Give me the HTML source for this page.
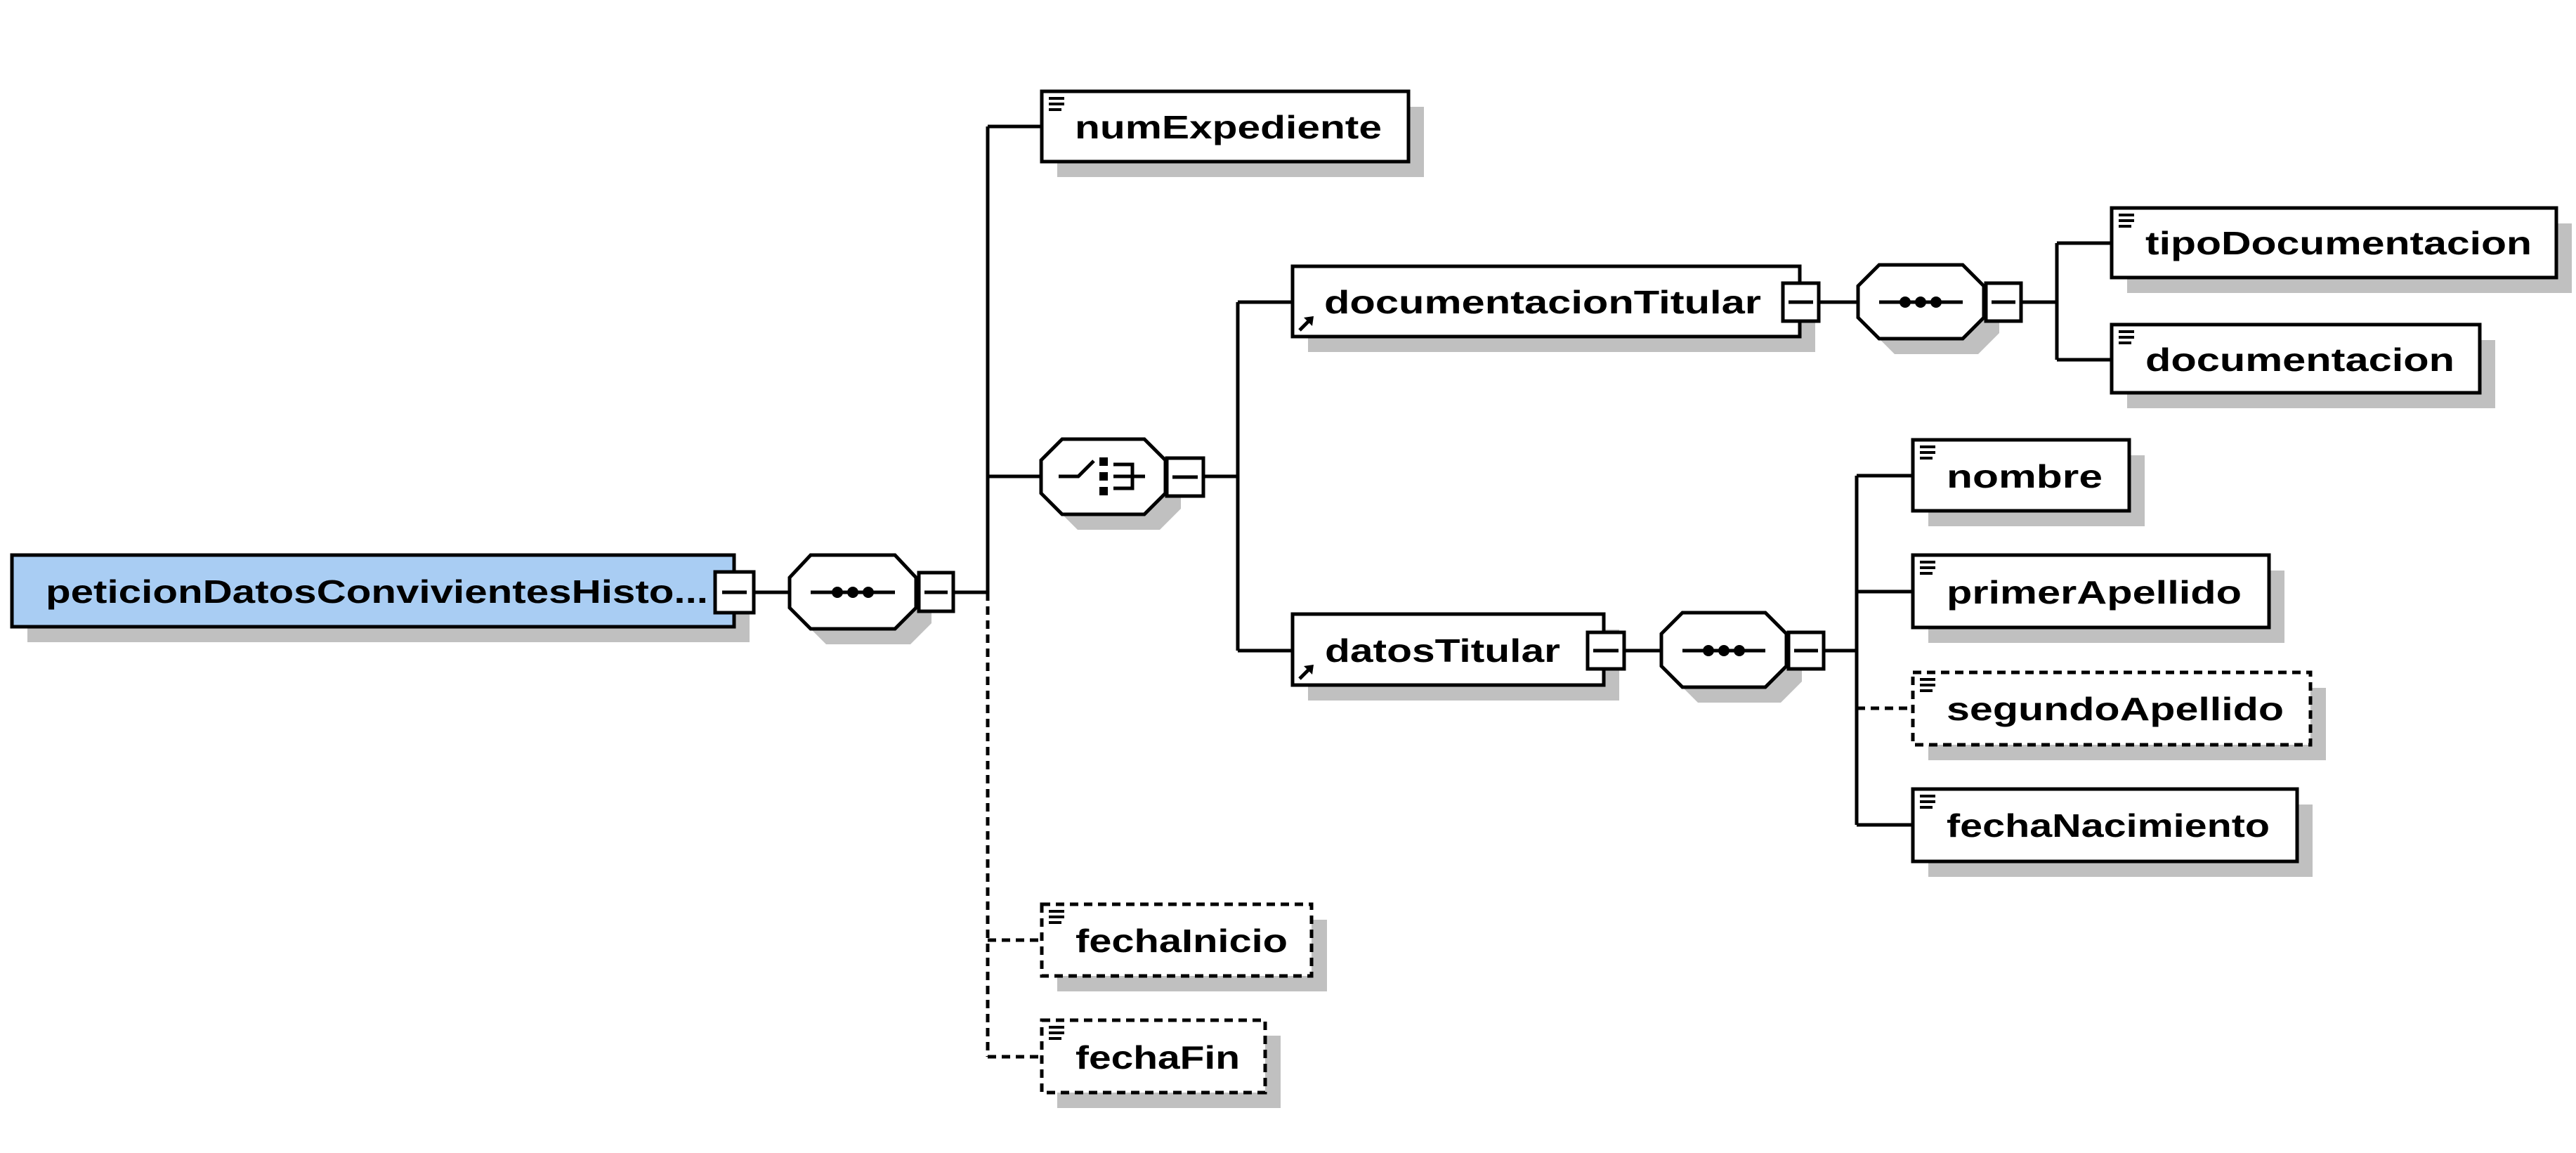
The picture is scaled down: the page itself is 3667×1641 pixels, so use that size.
<!DOCTYPE html>
<html><head><meta charset="utf-8"><style>
html,body{margin:0;padding:0;background:#fff;}
svg{display:block;}
text{font-family:"Liberation Sans",Arial,sans-serif;font-weight:bold;font-size:46px;fill:#000;}
</style></head><body>
<svg width="3667" height="1641" viewBox="0 0 3667 1641" xmlns="http://www.w3.org/2000/svg">
<g fill="#c0c0c0" stroke="none">
<rect x="39" y="812" width="1028" height="102"/>
<polygon points="1176,812 1296,812 1326,844 1326,887 1296,917 1176,917 1146,887 1146,844"/>
<rect x="1505" y="152" width="522" height="100"/>
<polygon points="1534,647 1651,647 1681,677 1681,724 1651,754 1534,754 1504,724 1504,677"/>
<rect x="1862" y="401" width="722" height="100"/>
<polygon points="2697,399 2816,399 2846,429 2846,474 2816,504 2697,504 2667,474 2667,429"/>
<rect x="3028" y="318" width="633" height="99"/>
<rect x="3028" y="484" width="524" height="97"/>
<rect x="1862" y="896" width="443" height="101"/>
<polygon points="2417,894 2535,894 2565,924 2565,970 2535,1000 2417,1000 2387,970 2387,924"/>
<rect x="2745" y="648" width="308" height="101"/>
<rect x="2745" y="812" width="507" height="103"/>
<rect x="2745" y="979" width="566" height="103"/>
<rect x="2745" y="1145" width="547" height="103"/>
<rect x="1505" y="1309" width="384" height="102"/>
<rect x="1505" y="1474" width="318" height="103"/>
</g>
<g stroke="#000" stroke-width="5" fill="none">
<line x1="1073" y1="843" x2="1124" y2="843"/>
<line x1="1357" y1="843" x2="1406" y2="843"/>
<line x1="1406" y1="180" x2="1406" y2="843"/>
<line x1="1406" y1="843" x2="1406" y2="1504" stroke-dasharray="12 8"/>
<line x1="1406" y1="180" x2="1483" y2="180"/>
<line x1="1406" y1="678" x2="1482" y2="678"/>
<line x1="1406" y1="1338" x2="1483" y2="1338" stroke-dasharray="12 8"/>
<line x1="1406" y1="1504" x2="1483" y2="1504" stroke-dasharray="12 8"/>
<line x1="1713" y1="678" x2="1762" y2="678"/>
<line x1="1762" y1="430" x2="1762" y2="926"/>
<line x1="1762" y1="430" x2="1840" y2="430"/>
<line x1="1762" y1="926" x2="1840" y2="926"/>
<line x1="2589" y1="430" x2="2645" y2="430"/>
<line x1="2877" y1="430" x2="2928" y2="430"/>
<line x1="2928" y1="346" x2="2928" y2="512"/>
<line x1="2928" y1="346" x2="3006" y2="346"/>
<line x1="2928" y1="512" x2="3006" y2="512"/>
<line x1="2312" y1="926" x2="2365" y2="926"/>
<line x1="2596" y1="926" x2="2643" y2="926"/>
<line x1="2643" y1="677" x2="2643" y2="1174"/>
<line x1="2643" y1="677" x2="2723" y2="677"/>
<line x1="2643" y1="842" x2="2723" y2="842"/>
<line x1="2643" y1="1008" x2="2723" y2="1008" stroke-dasharray="12 8"/>
<line x1="2643" y1="1174" x2="2723" y2="1174"/>
</g>
<g stroke="#000" stroke-width="5">
<rect x="17" y="790" width="1028" height="102" fill="#a9cdf3"/>
<rect x="1483" y="130" width="522" height="100" fill="#fff"/>
<rect x="1840" y="379" width="722" height="100" fill="#fff"/>
<rect x="3006" y="296" width="633" height="99" fill="#fff"/>
<rect x="3006" y="462" width="524" height="97" fill="#fff"/>
<rect x="1840" y="874" width="443" height="101" fill="#fff"/>
<rect x="2723" y="626" width="308" height="101" fill="#fff"/>
<rect x="2723" y="790" width="507" height="103" fill="#fff"/>
<rect x="2723" y="957" width="566" height="103" fill="#fff" stroke-dasharray="12 8"/>
<rect x="2723" y="1123" width="547" height="103" fill="#fff"/>
<rect x="1483" y="1287" width="384" height="102" fill="#fff" stroke-dasharray="12 8"/>
<rect x="1483" y="1452" width="318" height="103" fill="#fff" stroke-dasharray="12 8"/>
<polygon fill="#fff" points="1154,790 1274,790 1304,822 1304,865 1274,895 1154,895 1124,865 1124,822"/>
<polygon fill="#fff" points="1512,625 1629,625 1659,655 1659,702 1629,732 1512,732 1482,702 1482,655"/>
<polygon fill="#fff" points="2675,377 2794,377 2824,407 2824,452 2794,482 2675,482 2645,452 2645,407"/>
<polygon fill="#fff" points="2395,872 2513,872 2543,902 2543,948 2513,978 2395,978 2365,948 2365,902"/>
<rect x="1018" y="814" width="55" height="58" fill="#fff"/>
<rect x="1308" y="815" width="49" height="55" fill="#fff"/>
<rect x="1661" y="652" width="52" height="54" fill="#fff"/>
<rect x="2538" y="403" width="51" height="54" fill="#fff"/>
<rect x="2827" y="403" width="50" height="54" fill="#fff"/>
<rect x="2260" y="900" width="52" height="52" fill="#fff"/>
<rect x="2546" y="900" width="50" height="52" fill="#fff"/>
</g>
<g stroke="#000" stroke-width="5">
<line x1="1028" y1="843" x2="1063" y2="843"/>
<line x1="1316" y1="843" x2="1349" y2="843"/>
<line x1="1669" y1="679" x2="1705" y2="679"/>
<line x1="2546" y1="430" x2="2581" y2="430"/>
<line x1="2835" y1="430" x2="2869" y2="430"/>
<line x1="2268" y1="926" x2="2304" y2="926"/>
<line x1="2554" y1="926" x2="2588" y2="926"/>
<line x1="1154" y1="843" x2="1274" y2="843"/>
<line x1="2675" y1="430" x2="2794" y2="430"/>
<line x1="2395" y1="926" x2="2513" y2="926"/>
<polyline fill="none" points="1507,678 1535,678 1557,656"/>
<polyline fill="none" points="1585,661 1612,661 1612,695 1585,695"/>
<line x1="1585" y1="678" x2="1630" y2="678"/>
</g>
<g fill="#000">
<circle cx="1192" cy="843" r="8"/><circle cx="1214" cy="843" r="8"/><circle cx="1236" cy="843" r="8"/>
<circle cx="2712" cy="430" r="8"/><circle cx="2734" cy="430" r="8"/><circle cx="2756" cy="430" r="8"/>
<circle cx="2432" cy="926" r="8"/><circle cx="2454" cy="926" r="8"/><circle cx="2476" cy="926" r="8"/>
<rect x="1565" y="651" width="12" height="12"/><rect x="1565" y="672" width="12" height="12"/><rect x="1565" y="693" width="12" height="12"/>
<rect x="1493" y="138" width="22" height="4"/><rect x="1493" y="146" width="22" height="4"/><rect x="1493" y="154" width="18" height="4"/>
<rect x="3016" y="304" width="22" height="4"/><rect x="3016" y="312" width="22" height="4"/><rect x="3016" y="320" width="18" height="4"/>
<rect x="3016" y="470" width="22" height="4"/><rect x="3016" y="478" width="22" height="4"/><rect x="3016" y="486" width="18" height="4"/>
<rect x="2733" y="634" width="22" height="4"/><rect x="2733" y="642" width="22" height="4"/><rect x="2733" y="650" width="18" height="4"/>
<rect x="2733" y="798" width="22" height="4"/><rect x="2733" y="806" width="22" height="4"/><rect x="2733" y="814" width="18" height="4"/>
<rect x="2733" y="965" width="22" height="4"/><rect x="2733" y="973" width="22" height="4"/><rect x="2733" y="981" width="18" height="4"/>
<rect x="2733" y="1131" width="22" height="4"/><rect x="2733" y="1139" width="22" height="4"/><rect x="2733" y="1147" width="18" height="4"/>
<rect x="1493" y="1295" width="22" height="4"/><rect x="1493" y="1303" width="22" height="4"/><rect x="1493" y="1311" width="18" height="4"/>
<rect x="1493" y="1460" width="22" height="4"/><rect x="1493" y="1468" width="22" height="4"/><rect x="1493" y="1476" width="18" height="4"/>
</g>
<g stroke="#000" stroke-width="5" fill="none">
<line x1="1850" y1="470" x2="1866" y2="454"/>
<line x1="1850" y1="966" x2="1866" y2="950"/>
</g>
<g fill="#000">
<polygon points="1870,450 1856,452 1868,464"/>
<polygon points="1870,946 1856,948 1868,960"/>
</g>
<text x="65" y="858" textLength="943" lengthAdjust="spacingAndGlyphs">peticionDatosConvivientesHisto...</text>
<text x="1530" y="197" textLength="437" lengthAdjust="spacingAndGlyphs">numExpediente</text>
<text x="1885" y="446" textLength="622" lengthAdjust="spacingAndGlyphs">documentacionTitular</text>
<text x="3054" y="362" textLength="550" lengthAdjust="spacingAndGlyphs">tipoDocumentacion</text>
<text x="3054" y="528" textLength="440" lengthAdjust="spacingAndGlyphs">documentacion</text>
<text x="1886" y="942" textLength="335" lengthAdjust="spacingAndGlyphs">datosTitular</text>
<text x="2771" y="694" textLength="222" lengthAdjust="spacingAndGlyphs">nombre</text>
<text x="2771" y="859" textLength="420" lengthAdjust="spacingAndGlyphs">primerApellido</text>
<text x="2771" y="1025" textLength="480" lengthAdjust="spacingAndGlyphs">segundoApellido</text>
<text x="2771" y="1191" textLength="460" lengthAdjust="spacingAndGlyphs">fechaNacimiento</text>
<text x="1531" y="1355" textLength="302" lengthAdjust="spacingAndGlyphs">fechaInicio</text>
<text x="1531" y="1521" textLength="234" lengthAdjust="spacingAndGlyphs">fechaFin</text>
</svg>
</body></html>
